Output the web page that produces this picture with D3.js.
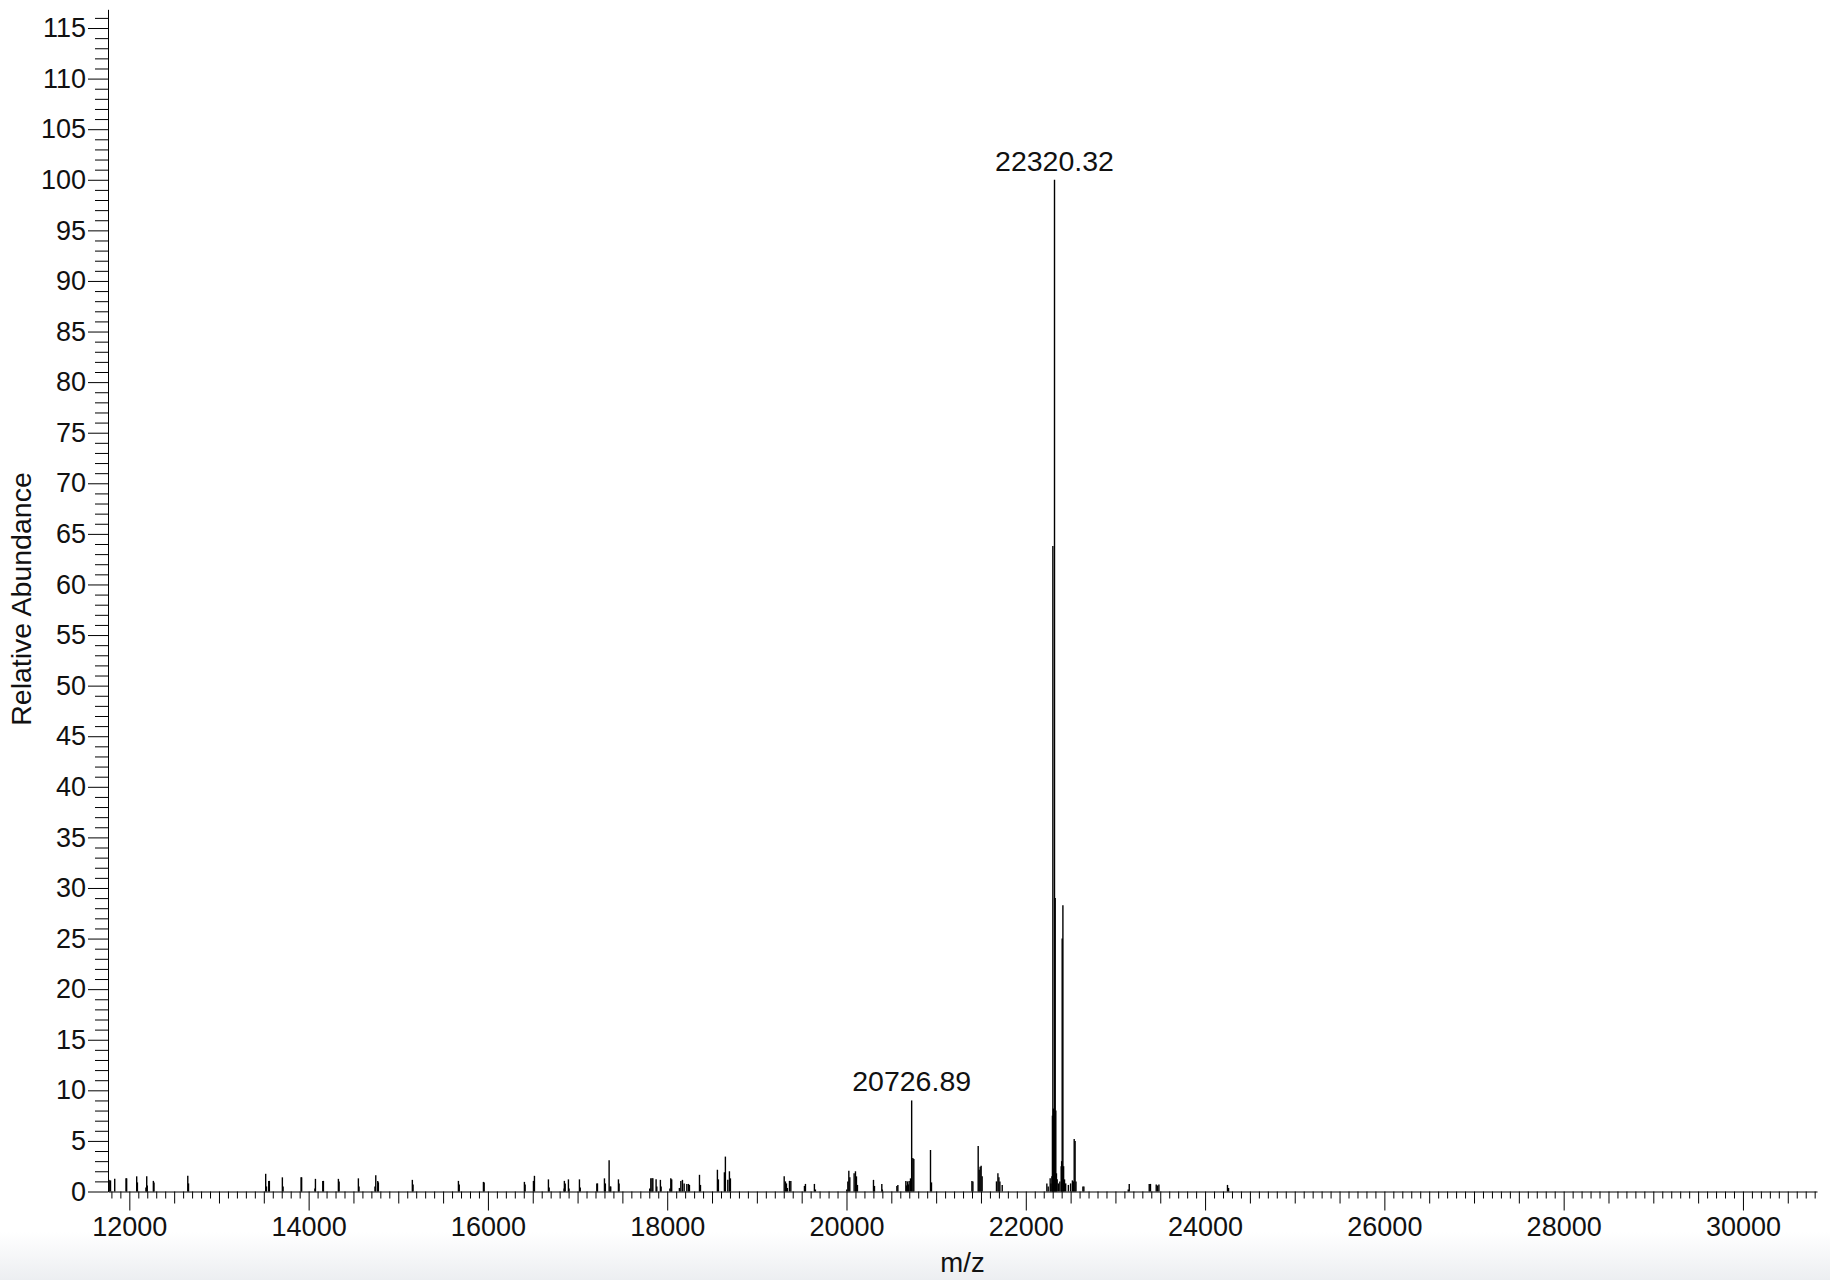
<!DOCTYPE html>
<html>
<head>
<meta charset="utf-8">
<script src="https://cdn.jsdelivr.net/npm/d3@7"></script>
<style>
  html, body { margin: 0; padding: 0; background: #fff; }
  svg { display: block; }
  text { font-family: "Liberation Sans", Arial, Helvetica, sans-serif; fill: #111; }
</style>
</head>
<body>
<svg id="chart" width="1830" height="1280"></svg>
<script>
// ---- data ----
const mzValues = [
  11770, 11775, 11790, 11837, 11963, 11970, 12082, 12090, 12185, 12194, 12200, 12268, 12275,
  12652, 12660, 13521, 13530, 13555, 13562, 13707, 13715, 13916, 13922, 14070, 14076, 14158, 14165,
  14332, 14340, 14555, 14562, 14740, 14749, 14771, 14778,
  15157, 15165, 15671, 15680, 15950, 15958, 16407, 16415, 16508, 16519, 16675, 16683,
  16850, 16853, 16862, 16898, 16905, 17021, 17030, 17215, 17222, 17300, 17310, 17352, 17363, 17370,
  17456, 17463, 17805, 17817, 17830, 17840, 17876, 17884, 17924, 17932, 18030, 18040, 18050,
  18136, 18152, 18170, 18189, 18219, 18237, 18248, 18360, 18371, 18560, 18571,
  18638, 18649, 18676, 18694, 18705,
  19305, 19319, 19330, 19341, 19364, 19379, 19531, 19542, 19642, 19653,
  20003, 20015, 20026, 20037, 20085, 20100, 20111, 20122, 20301, 20312, 20394, 20400, 20562, 20573,
  20662, 20670, 20680, 20690, 20699, 20714, 20726.89, 20740, 20751, 20937, 20948,
  21399, 21410, 21469, 21480, 21491, 21502, 21513, 21673, 21689, 21700, 21711, 21737,
  22235, 22250, 22272, 22280, 22291, 22297, 22302, 22308, 22314, 22320.32, 22328, 22335, 22342, 22350,
  22365, 22380, 22395, 22400, 22406, 22414, 22422, 22432, 22445, 22475, 22500, 22520, 22530,
  22540, 22550, 22560, 22637, 22648,
  23143, 23154, 23377, 23391, 23455, 23470, 23485, 24250, 24262
];
const abundances = [
  1.15, 1.1, 1.1, 1.25, 1.3, 1.3, 1.5, 0.9, 0.4, 1.5, 0.6, 1.05, 0.9,
  1.55, 0.8, 1.75, 0.5, 1.05, 1.05, 1.4, 0.5, 1.4, 1.4, 0.3, 1.25, 1.05, 1.05,
  1.25, 1.0, 1.3, 0.5, 0.5, 1.6, 1.05, 0.9,
  1.15, 0.7, 1.05, 0.7, 0.95, 0.9, 0.95, 0.7, 1.05, 1.55, 1.2, 0.4,
  0.3, 1.05, 0.8, 1.2, 0.3, 1.2, 0.4, 0.8, 0.8, 1.3, 0.8, 3.1, 0.5, 0.5,
  1.2, 0.8, 0.3, 1.3, 1.3, 1.3, 1.2, 0.5, 1.15, 0.5, 0.3, 1.3, 1.2,
  0.35, 1.05, 1.15, 0.8, 0.75, 0.75, 0.65, 1.65, 0.65, 2.15, 1.2,
  1.9, 3.45, 1.15, 2.0, 1.3,
  1.5, 1.0, 0.8, 0.35, 1.05, 1.05, 0.55, 0.75, 0.75, 0.2,
  0.2, 1.0, 2.05, 1.4, 1.8, 2.0, 1.5, 0.65, 1.15, 0.55, 0.75, 0.2, 0.55, 0.65,
  1.05, 0.6, 1.0, 0.7, 1.05, 1.3, 9.0, 3.3, 3.2, 4.1, 0.9,
  1.05, 1.0, 4.5, 2.15, 2.45, 2.55, 1.5, 1.0, 1.8, 1.4, 1.0, 0.65,
  0.8, 0.5, 1.3, 0.8, 1.5, 7.5, 63.8, 8.2, 5.5, 100, 29, 8.0, 1.8, 1.2,
  0.8, 1.0, 2.5, 3.0, 25, 28.3, 2.5, 1.2, 0.8, 0.65, 0.8, 1.1, 1.0,
  5.2, 5.0, 1.0, 0.5, 0.5,
  0.2, 0.75, 0.75, 0.75, 0.7, 0.6, 0.7, 0.65, 0.35
];
const labelMz = [22320.32, 20726.89];
const labelText = ["22320.32", "20726.89"];
const xMajorTicks = [12000, 14000, 16000, 18000, 20000, 22000, 24000, 26000, 28000, 30000];
const yMajorTicks = [0, 5, 10, 15, 20, 25, 30, 35, 40, 45, 50, 55, 60, 65, 70, 75, 80, 85, 90, 95, 100, 105, 110, 115];
const xTitle = "m/z";
const yTitle = "Relative Abundance";

// ---- layout ----
const svg = d3.select("#chart");
const W = 1830, H = 1280;
const plotLeft = 108, plotRight = 1817, plotTop = 9.3, plotBottom = 1191.5;

const x = d3.scaleLinear().domain([11762, 30826]).range([plotLeft, plotRight]);
const y = d3.scaleLinear().domain([0, 116.85]).range([plotBottom, plotTop]);

// bottom grey fade (window chrome look)
const defs = svg.append("defs");
const grad = defs.append("linearGradient").attr("id", "fade").attr("x1", 0).attr("y1", 0).attr("x2", 0).attr("y2", 1);
grad.append("stop").attr("offset", "0%").attr("stop-color", "#ffffff");
grad.append("stop").attr("offset", "100%").attr("stop-color", "#eceef1");
svg.append("rect").attr("x", 0).attr("y", 0).attr("width", W).attr("height", H).attr("fill", "#fff");
svg.append("rect").attr("x", 0).attr("y", 1232).attr("width", W).attr("height", H - 1232).attr("fill", "url(#fade)");

// ---- spectrum sticks ----
const data = mzValues.map((m, i) => ({ mz: m, v: abundances[i] }));
svg.append("g").selectAll("line").data(data).join("line")
  .attr("x1", d => x(d.mz)).attr("x2", d => x(d.mz))
  .attr("y1", y(0)).attr("y2", d => y(d.v))
  .attr("stroke", "#000").attr("stroke-width", 1.4);

// ---- axes ----
const fontSize = 27;
function seq(a, b, s) { const r = []; for (let v = a; v <= b + 1e-9; v += s) r.push(+v.toFixed(6)); return r; }

const xMinor = seq(11800, 30800, 100).filter(v => v % 500 !== 0);
const xMedium = seq(12000, 30500, 500).filter(v => v % 2000 !== 0);
svg.append("g").attr("transform", `translate(0,${plotBottom})`)
  .call(d3.axisBottom(x).tickValues(xMinor).tickSize(7).tickFormat("").tickSizeOuter(0))
  .call(g => g.select(".domain").remove());
svg.append("g").attr("transform", `translate(0,${plotBottom})`)
  .call(d3.axisBottom(x).tickValues(xMedium).tickSize(12).tickFormat("").tickSizeOuter(0))
  .call(g => g.select(".domain").remove());
const xAxis = svg.append("g").attr("transform", `translate(0,${plotBottom})`)
  .call(d3.axisBottom(x).tickValues(xMajorTicks).tickSize(19).tickPadding(6).tickFormat(d3.format("d")).tickSizeOuter(0));
xAxis.selectAll("text").style("font-size", fontSize + "px").attr("fill", "#111");

const yMinor = seq(0, 116, 1).filter(v => v % 5 !== 0);
svg.append("g").attr("transform", `translate(${plotLeft},0)`)
  .call(d3.axisLeft(y).tickValues(yMinor).tickSize(13).tickFormat("").tickSizeOuter(0))
  .call(g => g.select(".domain").remove());
const yAxis = svg.append("g").attr("transform", `translate(${plotLeft},0)`)
  .call(d3.axisLeft(y).tickValues(yMajorTicks).tickSize(20).tickPadding(2).tickFormat(d3.format("d")).tickSizeOuter(0));
yAxis.selectAll("text").style("font-size", fontSize + "px").attr("fill", "#111");

svg.selectAll(".domain, .tick line").attr("stroke", "#000");

// ---- peak labels ----
svg.append("g").selectAll("text").data(labelMz).join("text")
  .attr("x", d => x(d))
  .attr("y", d => y(abundances[mzValues.indexOf(d)]) - 9)
  .attr("text-anchor", "middle")
  .style("font-size", "28.5px")
  .text((d, i) => labelText[i]);

// ---- titles ----
svg.append("text").attr("x", (plotLeft + plotRight) / 2).attr("y", 1272)
  .attr("text-anchor", "middle").style("font-size", "27.5px").text(xTitle);
svg.append("text").attr("transform", `translate(31,599) rotate(-90)`)
  .attr("text-anchor", "middle").style("font-size", "28.5px").text(yTitle);
</script>
</body>
</html>
